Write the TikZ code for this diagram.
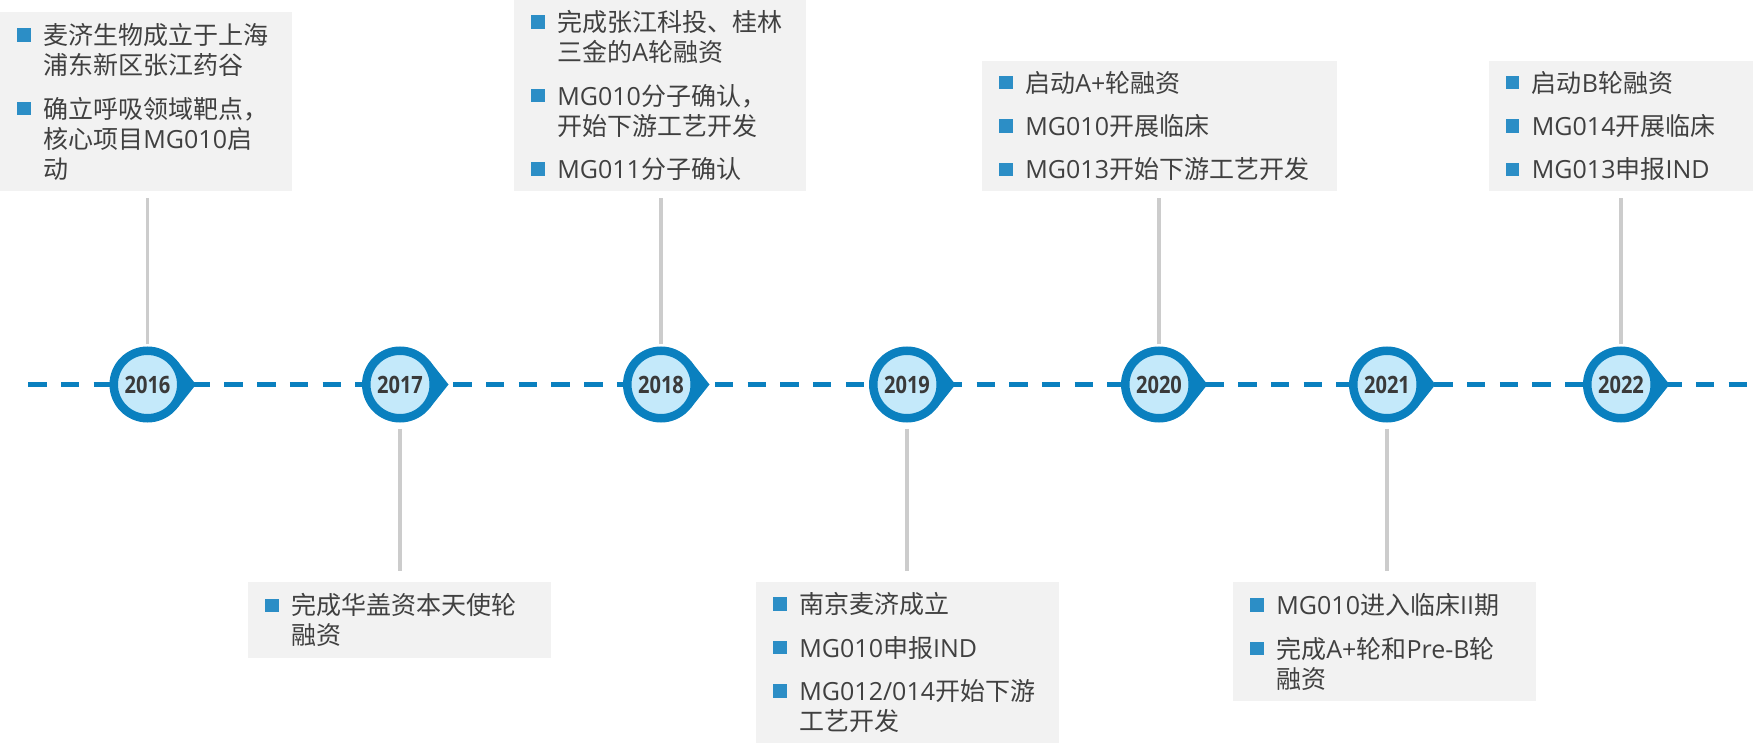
\documentclass[tikz,border=0pt]{standalone}
\usepackage{fontspec}
\setmainfont{Noto Sans CJK SC}
\newfontfamily\latinfont{Open Sans}
\newfontfamily\yearfont[FakeStretch=0.84]{Open Sans}
\usetikzlibrary{calc}
\definecolor{ringblue}{HTML}{0A80BF}
\definecolor{ringfill}{HTML}{C4E9FA}
\definecolor{bulletblue}{HTML}{2C8EC6}
\definecolor{boxgray}{HTML}{F2F2F2}
\definecolor{textgray}{HTML}{404040}
\definecolor{yeargray}{HTML}{3A3A3A}
\definecolor{linkgray}{HTML}{CCCCCC}
\def\en#1{{\latinfont #1}}
\def\bul{\textcolor{bulletblue}{\rule[0.055cm]{0.27cm}{0.27cm}}}
\def\evlist#1{\raisebox{-0.07cm}[\height][\depth]{\begin{tabular}{@{}p{0.52cm}@{}l@{}}#1\end{tabular}}}
\tikzset{
  evbox/.style={rectangle, fill=boxgray, inner xsep=0.34cm, inner ysep=0pt, align=left, text=textgray, font=\fontsize{14.23pt}{17.07pt}\selectfont},
  yearmark/.style={circle, fill=ringfill, draw=ringblue, line width=0.17cm, minimum size=1.35cm, inner sep=0pt, text=yeargray, font=\yearfont\bfseries\fontsize{13.6pt}{15pt}\selectfont},
  link/.style={draw=linkgray, line width=0.066cm},
  timeline/.style={draw=ringblue, line width=0.09cm, dash pattern=on 0.368cm off 0.286cm}
}

\begin{document}
\begin{tikzpicture}
				\useasboundingbox (0, 0) rectangle (35.06, 15);
				
				% dashed time axis
				\coordinate (tlstart) at (0.566, 7.31);
				\coordinate (tlend) at (35.06, 7.31);
				\draw[timeline] (tlstart) -- (tlend);
				
				% year markers
				\foreach \x/\yr in {2.95/2016, 8.00/2017, 13.22/2018, 18.14/2019, 23.18/2020, 27.74/2021, 32.42/2022}{
					\node[yearmark] (y\yr) at (\x, 7.31) {\yr};
					\fill[ringblue] (y\yr.38) -- ($(y\yr.center)+(0.97, 0)$) -- (y\yr.-38) -- cycle;
				}
				
				% upper boxes
				\node[evbox, anchor=south west, minimum width=5.832cm, minimum height=3.588cm, text width=5.152cm] (b2016) at (0, 11.166) {%
					\evlist{\bul & 麦济生物成立于上海\\
						     & 浦东新区张江药谷\\[0.267cm]
						\bul & 确立呼吸领域靶点，\\
						     & 核心项目\en{MG010}启\\
						     & 动}};
				
				\node[evbox, anchor=south west, minimum width=5.84cm, minimum height=3.834cm, text width=5.16cm] (b2018) at (10.28, 11.166) {%
					\evlist{\bul & 完成张江科投、桂林\\
						     & 三金的\en{A}轮融资\\[0.267cm]
						\bul & \en{MG010}分子确认，\\
						     & 开始下游工艺开发\\[0.267cm]
						\bul & \en{MG011}分子确认}};
				
				\node[evbox, anchor=south west, minimum width=7.09cm, minimum height=2.614cm, text width=6.41cm] (b2020) at (19.64, 11.166) {%
					\evlist{\bul & 启动\en{A+}轮融资\\[0.267cm]
						\bul & \en{MG010}开展临床\\[0.267cm]
						\bul & \en{MG013}开始下游工艺开发}};
				
				\node[evbox, anchor=south west, minimum width=5.29cm, minimum height=2.614cm, text width=4.61cm] (b2022) at (29.77, 11.166) {%
					\evlist{\bul & 启动\en{B}轮融资\\[0.267cm]
						\bul & \en{MG014}开展临床\\[0.267cm]
						\bul & \en{MG013}申报\en{IND}}};
				
				% lower boxes
				\node[evbox, anchor=north west, minimum width=6.06cm, minimum height=1.514cm, text width=5.38cm] (b2017) at (4.96, 3.36) {%
					\evlist{\bul & 完成华盖资本天使轮\\
						     & 融资}};
				
				\node[evbox, anchor=north west, minimum width=6.054cm, minimum height=3.208cm, text width=5.374cm] (b2019) at (15.12, 3.36) {%
					\evlist{\bul & 南京麦济成立\\[0.267cm]
						\bul & \en{MG010}申报\en{IND}\\[0.267cm]
						\bul & \en{MG012/014}开始下游\\
						     & 工艺开发}};
				
				\node[evbox, anchor=north west, minimum width=6.06cm, minimum height=2.374cm, text width=5.38cm] (b2021) at (24.66, 3.36) {%
					\evlist{\bul & \en{MG010}进入临床\en{II}期\\[0.267cm]
						\bul & 完成\en{A+}轮和\en{Pre-B}轮\\
						     & 融资}};
				
				% links from markers to boxes
				\foreach \yr in {2016, 2018, 2020, 2022}
					\draw[link, shorten <=0.04cm, shorten >=0.126cm] (y\yr.north) -- (y\yr.north |- b\yr.south);
				\foreach \yr in {2017, 2019, 2021}
					\draw[link, shorten <=0.12cm, shorten >=0.22cm] (y\yr.south) -- (y\yr.south |- b\yr.north);
			\end{tikzpicture}
\end{document}
